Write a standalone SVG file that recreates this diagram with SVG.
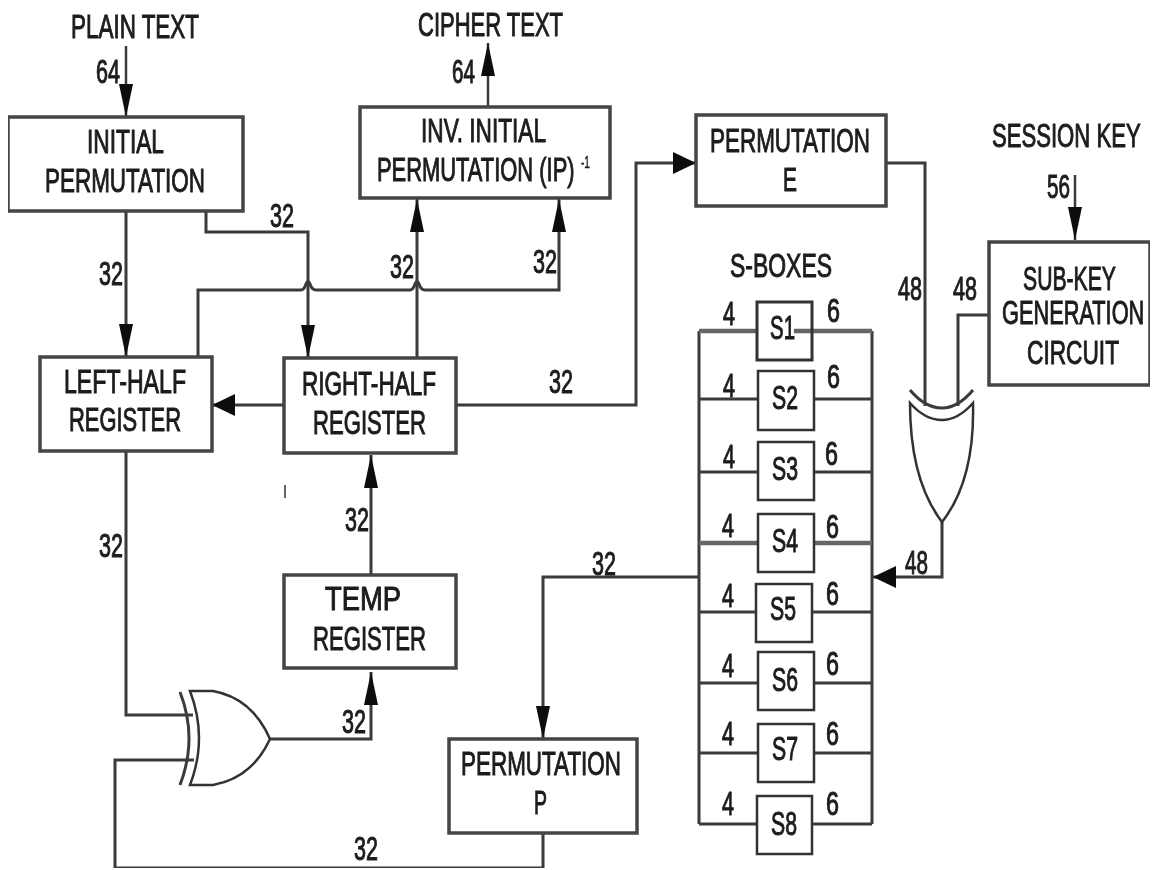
<svg xmlns="http://www.w3.org/2000/svg" width="1158" height="870" viewBox="0 0 1158 870">
<style>
text{font-family:"Liberation Sans",Arial,sans-serif;font-size:33px;fill:#1c1c1c;stroke:#1c1c1c;stroke-width:1}
.s{font-size:16px;stroke-width:.4}
.b{fill:#fff;stroke:#444;stroke-width:3.5}
.c{fill:none;stroke:#3a3a3a;stroke-width:3}
.t{stroke-width:2.5}
.w{stroke-width:4.5;stroke:#666}
.g{fill:#fff;stroke:#333;stroke-width:2.5}
</style>
<defs>
<marker id="a" markerUnits="userSpaceOnUse" markerWidth="34" markerHeight="16" refX="33" refY="8" orient="auto"><path d="M0 1L33 8L0 15Z" fill="#111"/></marker>
<marker id="h" markerUnits="userSpaceOnUse" markerWidth="24" markerHeight="24" refX="23" refY="12" orient="auto"><path d="M0 1L23 12L0 23Z" fill="#111"/></marker>
<filter id="soft" x="0" y="0" width="100%" height="100%"><feGaussianBlur stdDeviation="0.55"/></filter>
</defs>
<rect width="1158" height="870" fill="#fff"/>
<g filter="url(#soft)">
<g id="connectors">
<path class="c t" marker-end="url(#a)" d="M126 46V117"/>
<path class="c t" marker-end="url(#a)" d="M488 107V43"/>
<path class="c" marker-end="url(#a)" d="M126 211V357"/>
<path class="c" marker-end="url(#a)" d="M206 211V232H308V358"/>
<path class="c" marker-end="url(#a)" d="M198 357V290H301Q304 290 306 284Q308 279 310 284Q312 290 316 290H410Q413 290 415 284Q417 279 419 284Q421 290 425 290H559V199"/>
<path class="c" marker-end="url(#a)" d="M417 358V199"/>
<path class="c" marker-end="url(#h)" d="M284 405H212"/>
<path class="c" marker-end="url(#h)" d="M456 405H636V163H696"/>
<path class="c" marker-end="url(#a)" d="M371 575V455"/>
<path class="c" marker-end="url(#a)" d="M699 577H543V739"/>
<path class="c t" marker-end="url(#a)" d="M1075 175V240"/>
<path class="c" d="M886 163H925V406"/>
<path class="c" d="M989 315H958V406"/>
<path class="c" marker-end="url(#h)" d="M942 522V577H873"/>
<path class="c" d="M126 451V715H193"/>
<path class="c" d="M194 760H115V868H543V833"/>
<path class="c" marker-end="url(#a)" d="M270 739H371V672"/>
<path class="c" d="M699 331V824M872 331V824"/>
<path class="c w" d="M699 331H758M794 331H872M699 543H872"/>
<path class="c" d="M699 399H872M699 472H872M699 612H872M699 683H872M699 753H872M699 824H872"/>
<path d="M285 485V498" stroke="#666" stroke-width="2"/>
</g>
<g id="initial-permutation"><rect class="b" x="8" y="117" width="235" height="94"/><text x="87" y="153" textLength="77" lengthAdjust="spacingAndGlyphs">INITIAL</text><text x="45" y="192" textLength="160" lengthAdjust="spacingAndGlyphs">PERMUTATION</text></g>
<g id="inv-initial-permutation"><rect class="b" x="360" y="107" width="250" height="91"/><text x="421" y="142" textLength="125" lengthAdjust="spacingAndGlyphs">INV. INITIAL</text><text transform="translate(377 181) scale(.664 1)">PERMUTATION (IP)</text><text class="s" x="581" y="168" textLength="9" lengthAdjust="spacingAndGlyphs">-1</text></g>
<g id="permutation-e"><rect class="b" x="696" y="115" width="190" height="91"/><text x="710" y="152" textLength="160" lengthAdjust="spacingAndGlyphs">PERMUTATION</text><text x="783" y="191" textLength="14" lengthAdjust="spacingAndGlyphs">E</text></g>
<g id="left-half-register"><rect class="b" x="40" y="357" width="172" height="94"/><text x="64" y="393" textLength="122" lengthAdjust="spacingAndGlyphs">LEFT-HALF</text><text x="69" y="431" textLength="112" lengthAdjust="spacingAndGlyphs">REGISTER</text></g>
<g id="right-half-register"><rect class="b" x="284" y="358" width="172" height="95"/><text x="302" y="395" textLength="134" lengthAdjust="spacingAndGlyphs">RIGHT-HALF</text><text x="313" y="434" textLength="113" lengthAdjust="spacingAndGlyphs">REGISTER</text></g>
<g id="temp-register"><rect class="b" x="284" y="575" width="172" height="93"/><text x="325" y="610" textLength="76" lengthAdjust="spacingAndGlyphs">TEMP</text><text x="313" y="650" textLength="113" lengthAdjust="spacingAndGlyphs">REGISTER</text></g>
<g id="sub-key-generation"><rect class="b" x="989" y="242" width="161" height="143"/><text transform="translate(1023 290) scale(.642 1)">SUB-KEY</text><text transform="translate(1002 324) scale(.66 1)">GENERATION</text><text transform="translate(1027 364) scale(.688 1)">CIRCUIT</text></g>
<g id="permutation-p"><rect class="b" x="449" y="739" width="188" height="94"/><text x="461" y="775" textLength="160" lengthAdjust="spacingAndGlyphs">PERMUTATION</text><text x="534" y="814" textLength="13" lengthAdjust="spacingAndGlyphs">P</text></g>
<g id="s1"><rect x="757" y="302" width="55" height="58" fill="none" stroke="#333" stroke-width="3"/><text x="770" y="339" textLength="25" lengthAdjust="spacingAndGlyphs">S1</text></g>
<g id="s2"><rect class="g" x="758" y="371" width="56" height="59"/><text x="772" y="409" textLength="26" lengthAdjust="spacingAndGlyphs">S2</text></g>
<g id="s3"><rect class="g" x="758" y="442" width="56" height="58"/><text x="772" y="480" textLength="26" lengthAdjust="spacingAndGlyphs">S3</text></g>
<g id="s4"><rect class="g" x="758" y="514" width="56" height="58"/><text x="772" y="552" textLength="26" lengthAdjust="spacingAndGlyphs">S4</text></g>
<g id="s5"><rect class="g" x="756" y="584" width="56" height="58"/><text x="770" y="620" textLength="26" lengthAdjust="spacingAndGlyphs">S5</text></g>
<g id="s6"><rect class="g" x="758" y="652" width="56" height="58"/><text x="772" y="691" textLength="26" lengthAdjust="spacingAndGlyphs">S6</text></g>
<g id="s7"><rect class="g" x="758" y="724" width="56" height="58"/><text x="772" y="760" textLength="26" lengthAdjust="spacingAndGlyphs">S7</text></g>
<g id="s8"><rect class="g" x="757" y="796" width="55" height="58"/><text x="771" y="835" textLength="26" lengthAdjust="spacingAndGlyphs">S8</text></g>
<g id="xor-key"><path class="g" d="M910 403Q925 420 942 420Q958 420 973 403Q975 480 942 522Q910 480 910 403Z"/><path class="c" d="M910 390Q925 408 942 408Q958 408 973 390" stroke-width="2.5"/></g>
<g id="xor-data"><path class="g" d="M190 691H213Q252 698 270 739Q252 778 213 785H190Q208 738 190 691Z"/><path class="c" d="M180 692Q198 738 180 785" stroke-width="2.5"/></g>
<g id="labels">
<text x="71" y="38" textLength="128" lengthAdjust="spacingAndGlyphs">PLAIN TEXT</text>
<text x="418" y="36" textLength="145" lengthAdjust="spacingAndGlyphs">CIPHER TEXT</text>
<text transform="translate(992 147) scale(.67 1)">SESSION KEY</text>
<text x="730" y="277" textLength="102" lengthAdjust="spacingAndGlyphs">S-BOXES</text>
<text x="96" y="83" textLength="24" lengthAdjust="spacingAndGlyphs">64</text>
<text x="452" y="83" textLength="23" lengthAdjust="spacingAndGlyphs">64</text>
<text x="1047" y="198" textLength="23" lengthAdjust="spacingAndGlyphs">56</text>
<text x="270" y="227" textLength="24" lengthAdjust="spacingAndGlyphs">32</text>
<text x="99" y="285" textLength="24" lengthAdjust="spacingAndGlyphs">32</text>
<text x="390" y="278" textLength="24" lengthAdjust="spacingAndGlyphs">32</text>
<text x="533" y="273" textLength="24" lengthAdjust="spacingAndGlyphs">32</text>
<text x="549" y="393" textLength="24" lengthAdjust="spacingAndGlyphs">32</text>
<text x="345" y="531" textLength="24" lengthAdjust="spacingAndGlyphs">32</text>
<text x="99" y="557" textLength="24" lengthAdjust="spacingAndGlyphs">32</text>
<text x="592" y="575" textLength="24" lengthAdjust="spacingAndGlyphs">32</text>
<text x="342" y="733" textLength="24" lengthAdjust="spacingAndGlyphs">32</text>
<text x="354" y="860" textLength="24" lengthAdjust="spacingAndGlyphs">32</text>
<text x="898" y="300" textLength="24" lengthAdjust="spacingAndGlyphs">48</text>
<text x="953" y="300" textLength="24" lengthAdjust="spacingAndGlyphs">48</text>
<text x="905" y="574" textLength="23" lengthAdjust="spacingAndGlyphs">48</text>
<text x="723" y="325" textLength="12" lengthAdjust="spacingAndGlyphs">4</text>
<text x="723" y="397" textLength="12" lengthAdjust="spacingAndGlyphs">4</text>
<text x="723" y="468" textLength="12" lengthAdjust="spacingAndGlyphs">4</text>
<text x="722" y="537" textLength="12" lengthAdjust="spacingAndGlyphs">4</text>
<text x="722" y="607" textLength="12" lengthAdjust="spacingAndGlyphs">4</text>
<text x="722" y="677" textLength="12" lengthAdjust="spacingAndGlyphs">4</text>
<text x="722" y="745" textLength="12" lengthAdjust="spacingAndGlyphs">4</text>
<text x="722" y="815" textLength="12" lengthAdjust="spacingAndGlyphs">4</text>
<text x="827" y="322" textLength="13" lengthAdjust="spacingAndGlyphs">6</text>
<text x="827" y="388" textLength="13" lengthAdjust="spacingAndGlyphs">6</text>
<text x="825" y="465" textLength="13" lengthAdjust="spacingAndGlyphs">6</text>
<text x="826" y="538" textLength="13" lengthAdjust="spacingAndGlyphs">6</text>
<text x="826" y="605" textLength="13" lengthAdjust="spacingAndGlyphs">6</text>
<text x="826" y="675" textLength="13" lengthAdjust="spacingAndGlyphs">6</text>
<text x="826" y="745" textLength="13" lengthAdjust="spacingAndGlyphs">6</text>
<text x="826" y="815" textLength="13" lengthAdjust="spacingAndGlyphs">6</text>
</g>
</g>
</svg>
